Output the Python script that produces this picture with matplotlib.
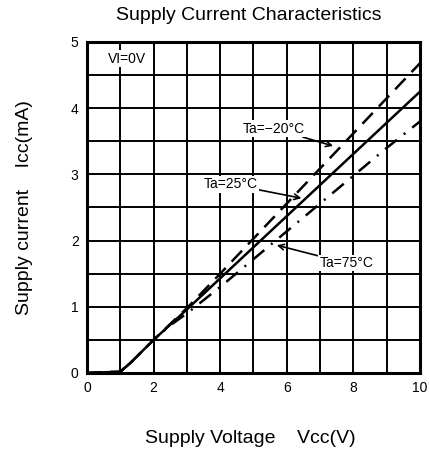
import matplotlib
matplotlib.use("Agg")
import matplotlib.pyplot as plt
import numpy as np

plt.rcParams['font.family'] = ['Liberation Sans', 'DejaVu Sans']

vcc = [0, 1, 1.3, 2, 3, 4, 5, 6, 7, 8, 9, 10]
icc_25 = [0, 0.02, 0.15, 0.5, 0.96, 1.43, 1.9, 2.37, 2.84, 3.31, 3.78, 4.25]
vcc_m20 = [0, 1, 1.3, 2, 2.5, 3, 4, 5, 6, 7, 8, 9, 10]
icc_m20 = [0, 0.02, 0.15, 0.5, 0.74, 0.98, 1.5, 2.03, 2.56, 3.09, 3.62, 4.15, 4.68]
vcc_75 = [0, 1, 1.3, 2, 2.5, 3, 4, 5, 6, 7, 8, 9, 10]
icc_75 = [0, 0.02, 0.15, 0.5, 0.72, 0.9, 1.3, 1.72, 2.14, 2.56, 2.98, 3.4, 3.8]

xticks = [0, 2, 4, 6, 8, 10]
yticks = [0, 1, 2, 3, 4, 5]

fig = plt.figure(figsize=(4.30, 4.58), dpi=100)
ax = fig.add_axes([0.2023, 0.1856, 0.7744, 0.7227])
ax.set_xlim(0, 10)
ax.set_ylim(0, 5)

for v in np.arange(1, 10, 1):
    ax.axvline(v, color='black', lw=1.4, zorder=1)
for i in np.arange(0.5, 5, 0.5):
    ax.axhline(i, color='black', lw=1.4, zorder=1)

ax.plot(vcc_m20, icc_m20, color='black', lw=1.8, linestyle=(0, (6, 3.5)), zorder=3)
ax.plot(vcc, icc_25, color='black', lw=1.8, linestyle='-', zorder=3)
ax.plot(vcc_75, icc_75, color='black', lw=1.8, linestyle=(0, (6, 3.5, 0.8, 3.5)), zorder=3)

for s in ax.spines.values():
    s.set_linewidth(2.2)
ax.set_xticks(xticks)
ax.set_yticks(yticks)
ax.tick_params(length=0, labelsize=10, pad=6)

box = dict(facecolor='white', edgecolor='none', pad=1)
ax.text(1.2, 4.75, 'VI=0V', fontsize=10, ha='center', va='center', bbox=box, zorder=4)
ax.annotate('Ta=−20°C', xy=(7.39, 3.43), xytext=(5.62, 3.69), fontsize=10,
            ha='center', va='center', bbox=box, zorder=4,
            arrowprops=dict(arrowstyle='->', color='black', lw=1.2, shrinkA=0, shrinkB=0))
ax.annotate('Ta=25°C', xy=(6.44, 2.64), xytext=(4.32, 2.85), fontsize=10,
            ha='center', va='center', bbox=box, zorder=4,
            arrowprops=dict(arrowstyle='->', color='black', lw=1.2, shrinkA=0, shrinkB=0))
ax.annotate('Ta=75°C', xy=(5.7, 1.93), xytext=(7.8, 1.66), fontsize=10,
            ha='center', va='center', bbox=box, zorder=4,
            arrowprops=dict(arrowstyle='->', color='black', lw=1.2, shrinkA=0, shrinkB=0))

fig.text(0.579, 0.966, 'Supply Current Characteristics', fontsize=14, ha='center', va='center')
fig.text(0.581, 0.042, 'Supply Voltage    Vcc(V)', fontsize=14, ha='center', va='center')
fig.text(0.058, 0.547, 'Supply current    Icc(mA)', fontsize=14, ha='center', va='center', rotation=90)

fig.savefig('out.png', dpi=100)
